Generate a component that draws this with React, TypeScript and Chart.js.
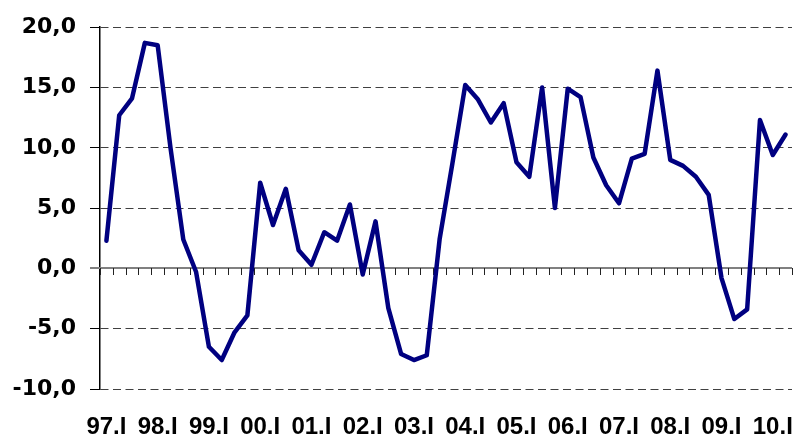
import React, { useEffect, useRef } from "react";
import { Chart, registerables } from "chart.js";

Chart.register(...registerables);

const quarters: string[] = [
  "97.I", "97.II", "97.III", "97.IV",
  "98.I", "98.II", "98.III", "98.IV",
  "99.I", "99.II", "99.III", "99.IV",
  "00.I", "00.II", "00.III", "00.IV",
  "01.I", "01.II", "01.III", "01.IV",
  "02.I", "02.II", "02.III", "02.IV",
  "03.I", "03.II", "03.III", "03.IV",
  "04.I", "04.II", "04.III", "04.IV",
  "05.I", "05.II", "05.III", "05.IV",
  "06.I", "06.II", "06.III", "06.IV",
  "07.I", "07.II", "07.III", "07.IV",
  "08.I", "08.II", "08.III", "08.IV",
  "09.I", "09.II", "09.III", "09.IV",
  "10.I", "10.II",
];

const growth: number[] = [
  2.3, 12.7, 14.1, 18.7,
  18.5, 10.0, 2.4, -0.3,
  -6.5, -7.6, -5.3, -3.9,
  7.1, 3.6, 6.6, 1.5,
  0.3, 3.0, 2.3, 5.3,
  -0.5, 3.9, -3.3, -7.1,
  -7.6, -7.2, 2.4, 8.7,
  15.2, 14.0, 12.1, 13.7,
  8.8, 7.6, 15.0, 5.0,
  14.9, 14.2, 9.2, 6.9,
  5.4, 9.1, 9.5, 16.4,
  9.0, 8.5, 7.6, 6.1,
  -0.8, -4.2, -3.4, 12.3,
  9.4, 11.1,
];

const yMin = -10;
const yMax = 20;
const yStep = 5;

const zeroAxisPlugin = {
  id: "zeroAxis",
  beforeDatasetsDraw(chart: any) {
    const { ctx } = chart;
    const x = chart.scales.x;
    const y = chart.scales.y;
    const y0 = Math.round(y.getPixelForValue(0));
    ctx.save();
    ctx.strokeStyle = "#808080";
    ctx.lineWidth = 2;
    ctx.beginPath();
    ctx.moveTo(x.left - 10, y0);
    ctx.lineTo(x.right, y0);
    ctx.stroke();
    ctx.strokeStyle = "#222222";
    ctx.lineWidth = 1;
    const n = chart.data.labels.length;
    for (let i = 0; i <= n; i++) {
      const px =
        i === 0
          ? x.left
          : i === n
          ? x.right
          : (x.getPixelForValue(i - 1) + x.getPixelForValue(i)) / 2;
      const rx = Math.round(px) + 0.5;
      ctx.beginPath();
      ctx.moveTo(rx, y0);
      ctx.lineTo(rx, y0 + 7);
      ctx.stroke();
    }
    ctx.restore();
  },
};

export default function App() {
  const canvasRef = useRef<HTMLCanvasElement | null>(null);

  useEffect(() => {
    if (!canvasRef.current) return;
    const chart = new Chart(canvasRef.current, {
      type: "line",
      data: {
        labels: quarters,
        datasets: [
          {
            data: growth,
            borderColor: "#000080",
            borderWidth: 4.5,
            pointRadius: 0,
            tension: 0,
            fill: false,
            borderJoinStyle: "round",
            borderCapStyle: "round",
          },
        ],
      },
      options: {
        animation: false,
        responsive: false,
        maintainAspectRatio: false,
        layout: { padding: { top: 24, right: 3, bottom: 0, left: 0 } },
        plugins: {
          legend: { display: false },
          tooltip: { enabled: false },
          title: { display: false },
        },
        scales: {
          x: {
            type: "category",
            position: "bottom",
            offset: true,
            grid: {
              display: true,
              drawOnChartArea: false,
              drawTicks: true,
              tickLength: 24,
              tickColor: "rgba(0,0,0,0)",
            },
            border: { display: false },
            ticks: {
              autoSkip: false,
              maxRotation: 0,
              minRotation: 0,
              padding: 0,
              color: "#000000",
              font: { family: "'Liberation Sans', Arial, sans-serif", weight: "bold", size: 24 },
              callback: (_v: any, i: number) => (i % 4 === 0 ? quarters[i] : ""),
            },
            afterFit: (scale: any) => {
              scale.height = 45;
            },
          },
          y: {
            min: yMin,
            max: yMax,
            grid: {
              color: "#404040",
              lineWidth: 1,
              drawTicks: true,
              tickLength: 10,
              tickColor: "#000000",
            },
            border: { display: true, color: "#000000", width: 1.5, dash: [8, 4.5] },
            ticks: {
              stepSize: yStep,
              padding: 14,
              color: "#000000",
              font: { family: "'DejaVu Sans', sans-serif", weight: "bold", size: 22 },
              callback: (v: any) => Number(v).toFixed(1).replace(".", ","),
            },
            afterFit: (scale: any) => {
              scale.width = 100;
            },
          },
        },
      },
      plugins: [zeroAxisPlugin],
    });
    return () => chart.destroy();
  }, []);

  return (
    <div style={{ position: "fixed", left: 0, top: 0, width: 795, height: 434, background: "#ffffff" }}>
      <canvas ref={canvasRef} width={795} height={434} style={{ display: "block" }} />
    </div>
  );
}
